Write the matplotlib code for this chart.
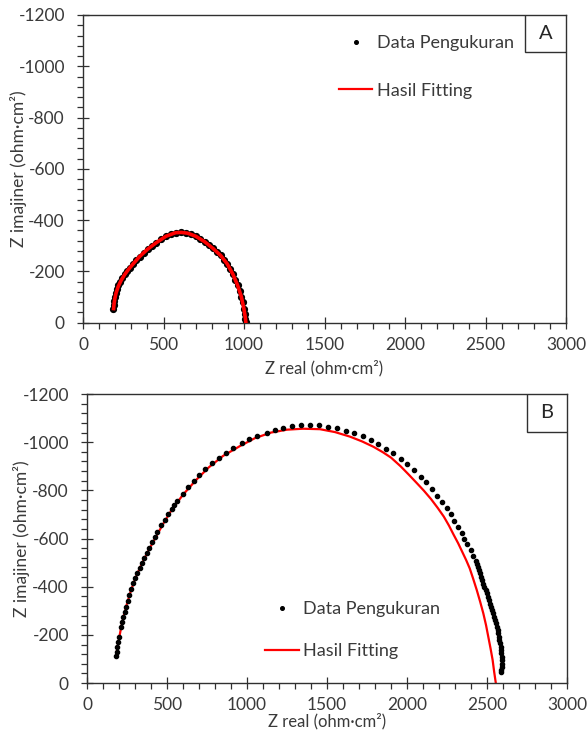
import matplotlib
matplotlib.use("Agg")
import matplotlib.pyplot as plt
from matplotlib.ticker import MultipleLocator
from matplotlib.lines import Line2D
from matplotlib.patches import Rectangle

plt.rcParams['font.family'] = ['Lato', 'DejaVu Sans']
plt.rcParams['axes.unicode_minus'] = False

# Panel A - data pengukuran
a_data_x = [188, 190, 193, 197, 203, 211, 220, 231, 244, 258, 274, 291, 310, 330, 352, 376,
            401, 428, 456, 485, 515, 546, 577, 608, 639, 670, 700, 729, 757, 783, 808,
            832, 855, 876, 896, 914, 931, 946, 960, 972, 983, 992, 999, 1005, 1009, 1012]
a_data_y = [-55, -68, -84, -100, -116, -131, -146, -160, -174, -188, -201, -215, -229, -243, -258, -272,
            -286, -299, -312, -325, -337, -346, -351, -352, -350, -345, -337, -327, -316, -304, -290,
            -275, -262, -246, -229, -210, -189, -168, -146, -124, -102, -80, -55, -33, -15, -3]
# Panel A - hasil fitting
a_fit_x = [190, 193, 198, 205, 218, 235, 258, 285, 315, 350, 400, 455, 515, 575, 610, 650, 700, 755,
           810, 855, 896, 931, 960, 983, 999, 1008, 1011]
a_fit_y = [-55, -75, -95, -115, -140, -163, -187, -210, -232, -257, -286, -312, -337, -351, -352, -349,
           -337, -316, -288, -262, -229, -189, -146, -102, -55, -20, -3]

# Panel B - data pengukuran
b_data_x = [181, 186, 190, 196, 202, 211, 218, 227, 235, 244, 254, 264, 277, 290, 302,
            314, 328, 342, 358, 373, 390, 408, 425, 440, 463, 488, 508, 529, 546, 564,
            598, 633, 668, 702, 738, 779, 825, 869, 915, 967, 1013, 1065, 1123, 1175, 1227,
            1279, 1335, 1394, 1452, 1508, 1565, 1619, 1671, 1723, 1773, 1821, 1869, 1915, 1960, 2002,
            2044, 2085, 2119, 2154, 2185, 2217, 2248, 2275, 2296, 2317, 2342, 2356, 2377, 2398, 2415,
            2431, 2437, 2444, 2450, 2456, 2463, 2470, 2477, 2484, 2491, 2499, 2506, 2513, 2520, 2527,
            2534, 2540, 2546, 2551, 2556, 2561, 2566, 2570, 2574, 2578, 2582, 2585, 2588, 2590, 2592,
            2593, 2593, 2592, 2590, 2588]
b_data_y = [-112, -130, -151, -172, -192, -234, -255, -275, -296, -317, -341, -365, -390, -414, -435,
            -455, -476, -497, -518, -538, -560, -585, -605, -628, -655, -679, -702, -722, -740, -757,
            -784, -813, -838, -862, -887, -912, -934, -954, -975, -997, -1012, -1026, -1039, -1051, -1060,
            -1066, -1070, -1071, -1070, -1065, -1057, -1046, -1037, -1025, -1011, -992, -973, -954, -930, -908,
            -885, -857, -833, -806, -777, -753, -725, -700, -674, -647, -624, -599, -576, -552, -527,
            -507, -494, -481, -468, -455, -441, -427, -413, -400, -386, -372, -358, -344, -330, -316,
            -302, -289, -275, -261, -248, -234, -220, -206, -193, -179, -165, -151, -137, -123, -109,
            -95, -81, -67, -55, -47]
# Panel B - hasil fitting
b_fit_x = [183, 195, 210, 228, 250, 275, 305, 340, 380, 425, 475, 530, 600, 680, 760,
           850, 956, 1050, 1150, 1250, 1350, 1456, 1550, 1644, 1720, 1790, 1850, 1900, 1960, 2010,
           2060, 2105, 2150, 2192, 2230, 2262, 2292, 2320, 2345, 2370, 2392, 2414, 2436, 2457, 2477,
           2494, 2508, 2522, 2535, 2545, 2555]
b_fit_y = [-118, -165, -220, -275, -330, -385, -440, -492, -545, -600, -660, -720, -782, -842, -895,
           -943, -984, -1017, -1040, -1052, -1056, -1054, -1042, -1023, -1003, -981, -958, -936, -900, -866,
           -831, -799, -764, -727, -691, -654, -615, -580, -545, -510, -476, -432, -386, -338, -289,
           -240, -192, -144, -96, -45, 0]

labels = ['Data Pengukuran', 'Hasil Fitting']
text_col = '#3a3a3a'

fig = plt.figure(figsize=(5.88, 7.35), dpi=100)
axA = fig.add_axes([0.1412, 0.561, 0.8214, 0.4186])
axB = fig.add_axes([0.148, 0.0707, 0.8163, 0.3932])

axA.plot(a_data_x, a_data_y, 'o', color='black', ms=4.2, zorder=2)
axA.plot(a_fit_x, a_fit_y, '-', color='red', lw=2.6, zorder=3)
axB.plot(b_fit_x, b_fit_y, '-', color='red', lw=1.6, zorder=2)
axB.plot(b_data_x, b_data_y, 'o', color='black', ms=3.0, zorder=3)

for ax in (axA, axB):
    ax.set_xlim(0, 3000)
    ax.set_ylim(0, -1200)
    ax.xaxis.set_major_locator(MultipleLocator(500))
    ax.xaxis.set_minor_locator(MultipleLocator(100))
    ax.yaxis.set_major_locator(MultipleLocator(200))
    ax.yaxis.set_minor_locator(MultipleLocator(40))
    ax.tick_params(which='major', direction='inout', length=8, width=0.9,
                   color='#303030', labelsize=12.5, labelcolor=text_col)
    ax.tick_params(which='minor', direction='out', length=4, width=0.9, color='#303030')
    ax.tick_params(axis='x', which='major', pad=6)
    ax.tick_params(axis='y', which='major', pad=9)
    for s in ax.spines.values():
        s.set_color('#303030')
        s.set_linewidth(1.0)
    ax.set_xlabel('Z real (ohm·cm²)', fontsize=12, color=text_col)
    ax.set_ylabel('Z imajiner (ohm·cm²)', fontsize=12.5, color=text_col)
    ax.xaxis.label.set_va('center')
    ax.yaxis.label.set_va('center')

axA.xaxis.set_label_coords(0.5, -0.147)
axA.yaxis.set_label_coords(-0.1346, 0.5)
axB.xaxis.set_label_coords(0.5, -0.133)
axB.yaxis.set_label_coords(-0.136, 0.5)

handles = [Line2D([], [], ls='none', marker='o', ms=2.6, color='black'),
           Line2D([], [], color='red', lw=1.6)]
axA.legend(handles, labels, loc='upper left', bbox_to_anchor=(0.530, 0.935), frameon=False,
           fontsize=13, handlelength=1.85, handletextpad=0.25, labelspacing=1.75,
           borderpad=0, borderaxespad=0, labelcolor=text_col)
axB.legend(handles, labels, loc='upper left', bbox_to_anchor=(0.371, 0.283), frameon=False,
           fontsize=13, handlelength=1.85, handletextpad=0.25, labelspacing=1.43,
           borderpad=0, borderaxespad=0, labelcolor=text_col)

for ax, name, (x0, y0) in ((axA, 'A', (0.915, 0.88)), (axB, 'B', (0.917, 0.869))):
    ax.add_patch(Rectangle((x0, y0), 1 - x0, 1 - y0, transform=ax.transAxes,
                           facecolor='white', edgecolor='#303030', lw=1.0, zorder=5))
    ax.text((x0 + 1) / 2, (y0 + 1) / 2, name, transform=ax.transAxes, ha='center', va='center',
            fontsize=14.5, color='#262626', zorder=6)

fig.savefig('out.png', dpi=100)
